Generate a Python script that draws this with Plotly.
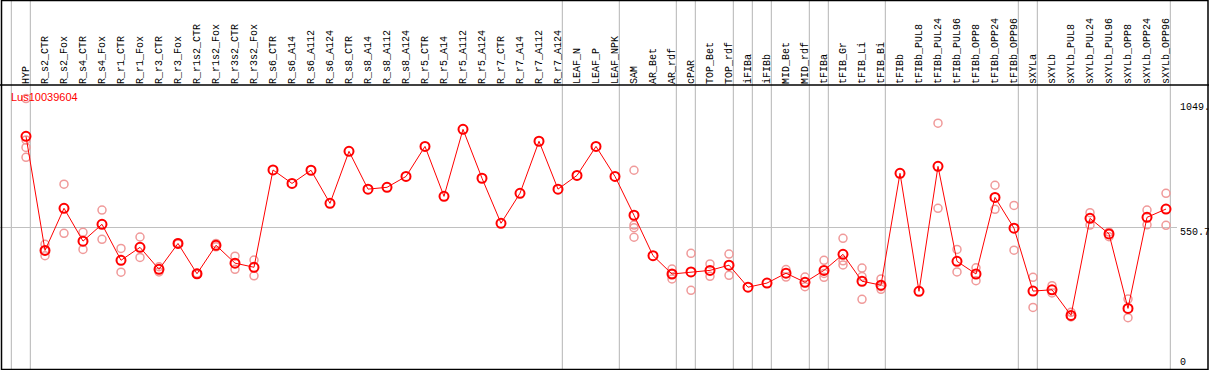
import plotly.graph_objects as go

categories = ["HYP", "R_s2_CTR", "R_s2_Fox", "R_s4_CTR", "R_s4_Fox", "R_r1_CTR", "R_r1_Fox",
              "R_r3_CTR", "R_r3_Fox", "R_r1s2_CTR", "R_r1s2_Fox", "R_r3s2_CTR", "R_r3s2_Fox",
              "R_s6_CTR", "R_s6_A14", "R_s6_A112", "R_s6_A124", "R_s8_CTR", "R_s8_A14",
              "R_s8_A112", "R_s8_A124", "R_r5_CTR", "R_r5_A14", "R_r5_A112", "R_r5_A124",
              "R_r7_CTR", "R_r7_A14", "R_r7_A112", "R_r7_A124", "LEAF_N", "LEAF_P", "LEAF_NPK",
              "SAM", "AR_Bet", "AR_rdf", "cPAR", "TOP_Bet", "TOP_rdf", "iFIBa", "iFIBb",
              "MID_Bet", "MID_rdf", "tFIBa", "tFIB_Gr", "tFIB_Li", "tFIB_Bi", "tFIBb",
              "tFIBb_PUL8", "tFIBb_PUL24", "tFIBb_PUL96", "tFIBb_OPP8", "tFIBb_OPP24",
              "tFIBb_OPP96", "sXYLa", "sXYLb", "sXYLb_PUL8", "sXYLb_PUL24", "sXYLb_PUL96",
              "sXYLb_OPP8", "sXYLb_OPP24", "sXYLb_OPP96"]

mean_values = [903, 462, 625, 498, 563, 424, 474, 389, 489, 372, 482, 413, 397,
               773, 721, 772, 644, 845, 699, 706, 748, 864, 671, 930, 741, 567, 683, 884, 699,
               752, 864, 748, 598, 442, 371, 379, 385, 405, 320, 336, 374, 339, 385, 447, 343,
               328, 760, 304, 787, 420, 371, 667, 548, 305, 310, 211, 586, 526, 238, 590, 622]

replicates = [
    [1049, 889, 860, 822], [486, 462, 442], [718, 528], [532, 466], [618, 505],
    [470, 378], [514, 435], [399, 379], [492, 487], [374, 370], [489, 476],
    [440, 389], [425, 364],
    [], [], [], [], [], [], [], [], [], [], [], [], [], [], [], [], [], [], [],
    [772, 560, 550, 513], [], [390, 371, 352], [451, 308], [410, 362], [448, 366],
    [], [], [388, 359], [359, 322], [424, 373, 358], [509, 422, 406],
    [394, 361, 273], [352, 322, 312], [], [], [954, 625], [466, 379], [395, 345],
    [714, 621], [636, 463], [358, 242], [326, 298], [223, 205], [608, 560],
    [533, 515], [274, 202], [618, 561], [683, 559],
]

# group separators: drawn after these category positions (0 = before the first)
separators_after = [0, 1, 29, 32, 35, 36, 38, 39, 40, 42, 43, 46, 53, 54, 61]

title_text = "Lus10039604"
y_max_label = "1049."
y_mid_label = "550.7"
y_min_label = "0"
y_top = 1101.4
y_mid = 550.7

x_pos = list(range(1, len(categories) + 1))

rep_x, rep_y = [], []
for xi, reps in zip(x_pos, replicates):
    for r in reps:
        rep_x.append(xi)
        rep_y.append(r)

W, H = 1209, 370
HEADER = 85
y_dom_top = (H - HEADER) / H

fig = go.Figure()
fig.add_trace(go.Scatter(
    x=rep_x, y=rep_y, mode="markers",
    marker=dict(symbol="circle-open", size=8, color="#f09a9a", line=dict(width=1.5)),
    hoverinfo="skip", showlegend=False, cliponaxis=False))
fig.add_trace(go.Scatter(
    x=x_pos, y=mean_values, mode="lines+markers",
    line=dict(color="#ff0000", width=1),
    marker=dict(symbol="circle-open", size=9, color="#ff0000", line=dict(width=2)),
    showlegend=False, cliponaxis=False))

x0 = 1 - 26 / 19
x1 = x0 + W / 19

shapes = []
for s in separators_after:
    shapes.append(dict(type="line", xref="x", yref="paper", x0=s + 0.23, x1=s + 0.23,
                       y0=0, y1=1, line=dict(color="#c0c0c0", width=1.2), layer="below"))
shapes.append(dict(type="line", xref="paper", yref="y", x0=0, x1=1177 / W, y0=y_mid, y1=y_mid,
                   line=dict(color="#c0c0c0", width=1.2), layer="below"))
shapes.append(dict(type="line", xref="paper", yref="paper", x0=0, x1=1, y0=y_dom_top, y1=y_dom_top,
                   line=dict(color="black", width=1.5)))
shapes.append(dict(type="rect", xref="paper", yref="paper", x0=1.5 / W, x1=1 - 1 / W,
                   y0=0.5 / H, y1=1 - 0.5 / H, line=dict(color="black", width=1.5)))

annotations = [
    dict(text=title_text, x=9 / W, y=(H - 97) / H, xref="paper", yref="paper",
         xanchor="left", yanchor="middle", showarrow=False,
         font=dict(family="Liberation Sans", size=11, color="#ff0000")),
    dict(text=y_max_label, x=1178 / W, y=(H - 107) / H, xref="paper", yref="paper",
         xanchor="left", yanchor="middle", showarrow=False,
         font=dict(family="Liberation Mono", size=10, color="black")),
    dict(text=y_mid_label, x=1178 / W, y=(H - 232) / H, xref="paper", yref="paper",
         xanchor="left", yanchor="middle", showarrow=False,
         font=dict(family="Liberation Mono", size=10, color="black")),
    dict(text=y_min_label, x=1178 / W, y=(H - 362) / H, xref="paper", yref="paper",
         xanchor="left", yanchor="middle", showarrow=False,
         font=dict(family="Liberation Mono", size=10, color="black")),
]

fig.update_layout(
    width=W, height=H, margin=dict(l=0, r=0, t=0, b=0),
    paper_bgcolor="white", plot_bgcolor="white",
    shapes=shapes, annotations=annotations,
    xaxis=dict(range=[x0, x1], side="top", tickmode="array", tickvals=x_pos,
               ticktext=categories, tickangle=-90, showgrid=False, zeroline=False,
               showline=False, ticks="", anchor="y", automargin=False,
               tickfont=dict(family="Liberation Mono", size=10, color="black")),
    yaxis=dict(range=[0, y_top], domain=[0, y_dom_top], showgrid=False, zeroline=False,
               showticklabels=False, showline=False, ticks="", automargin=False),
)

fig.write_html("out.html", config={"displayModeBar": False},
               post_script="document.body.style.margin='0';document.body.style.padding='0';"
                           "document.body.style.overflow='hidden';")
